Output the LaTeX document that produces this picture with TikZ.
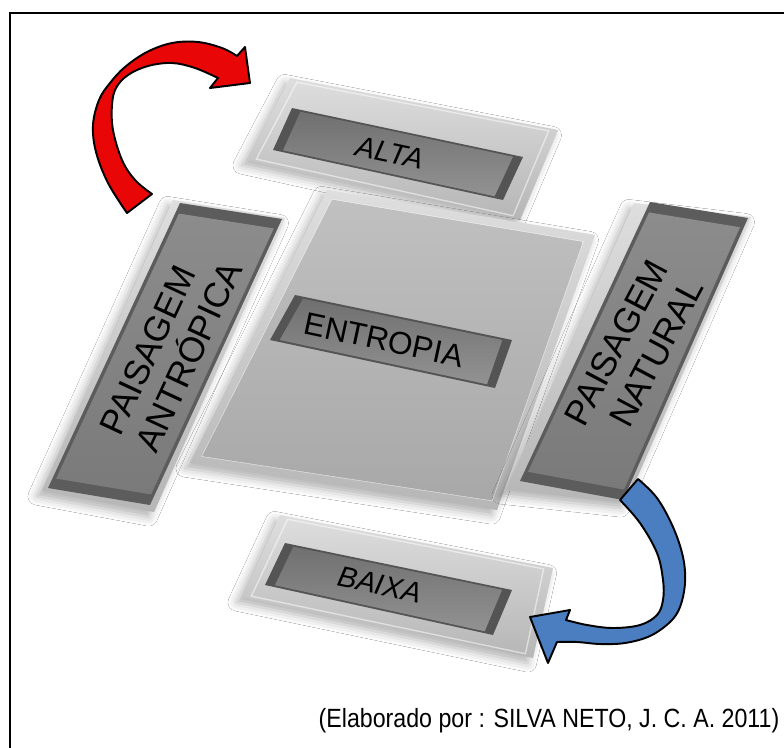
\documentclass[tikz,border=0pt]{standalone}
\usepackage{fontspec}
\setmainfont{Liberation Sans}
\usetikzlibrary{calc,shadows.blur}

\definecolor{frameTop}{RGB}{222,222,222}
\definecolor{frameBot}{RGB}{182,182,182}
\definecolor{panelRim}{RGB}{84,84,84}
\definecolor{panelTop}{RGB}{112,112,112}
\definecolor{panelBot}{RGB}{146,146,146}
\definecolor{centreTop}{RGB}{192,192,192}
\definecolor{centreBot}{RGB}{168,168,168}
\definecolor{barRim}{RGB}{92,92,92}
\definecolor{barTop}{RGB}{140,140,140}
\definecolor{barBot}{RGB}{122,122,122}
\definecolor{arrowRed}{RGB}{232,6,6}
\definecolor{arrowBlue}{RGB}{74,126,193}

% the four corners of a plate, and the same plate pulled in towards its middle
\newcommand{\quadpath}[1]{(#1-1) -- (#1-2) -- (#1-3) -- (#1-4) -- cycle}
\newcommand{\insetpath}[2]{($(#1-1)!#2!(#1-3)$) -- ($(#1-2)!#2!(#1-4)$) -- ($(#1-3)!#2!(#1-1)$) -- ($(#1-4)!#2!(#1-2)$) -- cycle}

\begin{document}
\begin{tikzpicture}[x=0.02cm,y=-0.02cm,
    shadowed/.style={blur shadow={shadow xshift=-3pt,shadow yshift=-3pt,shadow blur radius=5pt,shadow opacity=30}},
    frameplate/.style={top color=frameTop,bottom color=frameBot},
    panelplate/.style={top color=panelTop,bottom color=panelBot},
    barplate/.style={top color=barTop,bottom color=barBot},
    lbl/.style={inner sep=0pt,text=black},
    fatarrow/.style={draw=black,line width=1.1pt,line join=round}]
\useasboundingbox (0,0) rectangle (784,747);
\fill[white] (0,0) rectangle (784,747);
\draw[line width=1.7pt] (10,13) rectangle (800,770);

% corners
\coordinate (altaO-1) at (290,78);  \coordinate (altaO-2) at (558,130);
\coordinate (altaO-3) at (520,220); \coordinate (altaO-4) at (247,160);
\coordinate (altaI-1) at (292,108); \coordinate (altaI-2) at (523,157);
\coordinate (altaI-3) at (503,200); \coordinate (altaI-4) at (273,150);
\coordinate (centO-1) at (327,190); \coordinate (centO-2) at (595,235);
\coordinate (centO-3) at (497,510); \coordinate (centO-4) at (190,463);
\coordinate (centI-1) at (295,295); \coordinate (centI-2) at (512,340);
\coordinate (centI-3) at (495,388); \coordinate (centI-4) at (270,340);
\coordinate (baixaO-1) at (280,515); \coordinate (baixaO-2) at (553,568);
\coordinate (baixaO-3) at (533,658); \coordinate (baixaO-4) at (242,597);
\coordinate (baixaI-1) at (285,543); \coordinate (baixaI-2) at (512,590);
\coordinate (baixaI-3) at (493,635); \coordinate (baixaI-4) at (265,585);
\coordinate (leftO-1) at (173,200); \coordinate (leftO-2) at (285,218);
\coordinate (leftO-3) at (154,512); \coordinate (leftO-4) at (42,491);
\coordinate (leftI-1) at (180,203); \coordinate (leftI-2) at (282,219);
\coordinate (leftI-3) at (150,505); \coordinate (leftI-4) at (48,488);
\coordinate (rightO-1) at (634,203); \coordinate (rightO-2) at (751,217);
\coordinate (rightO-3) at (626,503); \coordinate (rightO-4) at (506,490);
\coordinate (rightI-1) at (650,202); \coordinate (rightI-2) at (748,218);
\coordinate (rightI-3) at (623,500); \coordinate (rightI-4) at (520,481);

% plates with a sunk panel
\foreach \p in {altaO,centO,baixaO}{
  \shade[shadowed,frameplate] \quadpath{\p};
  \draw[white,line width=0.8pt,opacity=0.5] \insetpath{\p}{0.03};
}
\shade[top color=centreTop,bottom color=centreBot] \insetpath{centO}{0.03};
\foreach \p in {altaI,centI,baixaI}{
  \fill[panelRim] \quadpath{\p};
  \shade[panelplate] \insetpath{\p}{0.04};
}

% side bars
\foreach \p in {leftO,rightO}
  \shade[shadowed,frameplate] \quadpath{\p};
\foreach \p in {leftI,rightI}{
  \fill[barRim] \quadpath{\p};
  \shade[barplate] \insetpath{\p}{0.035};
}

% labels
\node[lbl,rotate=-12,font=\fontsize{16.5}{16.5}\selectfont\itshape] (alta) at (390,153) {ALTA};
\node[lbl,rotate=-12,font=\fontsize{18}{18}\selectfont] (entropia) at (384,340) {ENTROPIA};
\node[lbl,rotate=-12,font=\fontsize{16.5}{16.5}\selectfont\itshape] (baixa) at (380,585) {BAIXA};
\node[lbl,rotate=65,align=left,font=\fontsize{20}{23}\selectfont] (antropica) at (171,348) {PAISAGEM\\ANTRÓPICA};
\node[lbl,rotate=62,align=right,font=\fontsize{20}{23}\selectfont] (natural) at (634,352) {PAISAGEM\\NATURAL};
\node[lbl,font=\fontsize{15}{15}\selectfont] (fonte) at (549,721) {\scalebox{0.88}[1]{(Elaborado por : SILVA NETO, J. C. A. 2011)}};

% curved arrows
\filldraw[fatarrow,fill=arrowRed]
  plot[smooth,tension=0.6] coordinates {(127,213) (108,183) (96,152) (93,125) (99,100) (110,83) (125,67) (147,52) (172,43) (198,42) (222,48) (237,56)}
  -- (245,47) -- (250,83) -- (210,88)
  -- plot[smooth,tension=0.6] coordinates {(218,78) (195,68) (172,63) (148,66) (128,75) (116,88) (112,105) (113,130) (122,160) (135,180) (152,194)}
  -- cycle;
\filldraw[fatarrow,fill=arrowBlue]
  plot[smooth,tension=0.6] coordinates {(638,479) (657,498) (673,527) (683,557) (685,583) (680,607) (670,622) (650,636) (625,643) (600,644) (577,642) (557,642)}
  -- (548,663) -- (530,617) -- (570,610)
  -- plot[smooth,tension=0.6] coordinates {(566,620) (587,625) (613,628) (640,625) (657,615) (663,600) (663,580) (657,553) (640,523) (620,500)}
  -- cycle;
\end{tikzpicture}
\end{document}
